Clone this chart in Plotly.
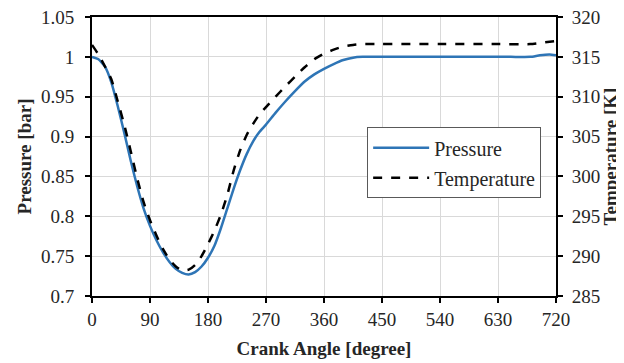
import plotly.graph_objects as go

# Crank angle [degree] and pressure [bar]
angle_p = [0, 10, 20, 30, 40, 50, 60, 70, 80, 90, 100, 110, 120, 130, 140, 150, 160,
           170, 180, 190, 200, 210, 220, 230, 240, 250, 260, 270, 285, 300, 315, 330,
           345, 360, 375, 390, 405, 420, 450, 500, 550, 600, 650, 680, 695, 710, 720]
pressure = [1.000, 0.997, 0.988, 0.968, 0.938, 0.905, 0.870, 0.838, 0.810, 0.788,
            0.770, 0.755, 0.743, 0.734, 0.729, 0.727, 0.730, 0.737, 0.748, 0.763,
            0.785, 0.810, 0.835, 0.858, 0.878, 0.894, 0.906, 0.915, 0.930, 0.944,
            0.957, 0.969, 0.978, 0.985, 0.991, 0.996, 0.999, 1.000, 1.000, 1.000,
            1.000, 1.000, 1.000, 1.000, 1.002, 1.003, 1.002]

# Crank angle [degree] and temperature [K]
angle_t = [0, 10, 20, 30, 40, 50, 60, 70, 80, 90, 100, 110, 120, 130, 140, 150, 160,
           170, 180, 190, 200, 210, 220, 230, 240, 250, 260, 270, 285, 300, 315, 330,
           345, 360, 375, 390, 405, 420, 450, 540, 630, 680, 700, 720]
temperature = [316.5, 315.3, 313.8, 312.2, 309.4, 306.5, 303.2, 299.8, 296.8, 294.5,
               292.6, 290.9, 289.6, 288.7, 288.2, 288.3, 288.9, 290.0, 291.5, 293.2,
               295.2, 297.7, 300.8, 303.3, 305.2, 306.6, 307.8, 308.7, 310.0, 311.3,
               312.5, 313.7, 314.7, 315.4, 315.9, 316.3, 316.5, 316.6, 316.6, 316.6,
               316.6, 316.6, 316.8, 317.0]

x_ticks = [0, 90, 180, 270, 360, 450, 540, 630, 720]
p_ticks = [0.7, 0.75, 0.8, 0.85, 0.9, 0.95, 1.0, 1.05]
p_tick_text = ["0.7", "0.75", "0.8", "0.85", "0.9", "0.95", "1", "1.05"]
t_ticks = [285, 290, 295, 300, 305, 310, 315, 320]

FONT = "Liberation Serif, Times New Roman, serif"
TXT = "#262626"

fig = go.Figure()
fig.add_trace(go.Scatter(
    x=angle_p, y=pressure, name="Pressure", mode="lines",
    line=dict(color="#2E75B6", width=2.5, shape="spline", smoothing=0.5),
    legendgroup="p"))
fig.add_trace(go.Scatter(
    x=angle_t, y=temperature, name="Temperature", mode="lines", yaxis="y2",
    line=dict(color="#000000", width=2.5, dash="dash", shape="spline", smoothing=0.5),
    legendgroup="t"))

axis_common = dict(showline=True, linecolor="#000000", linewidth=2,
                   ticks="outside", ticklen=5, tickcolor="#000000", tickwidth=1.5,
                   tickfont=dict(family=FONT, size=19, color=TXT),
                   ticklabeloverflow="allow",
                   zeroline=False, automargin=False)

# the page body adds an 8px offset, so the figure is 616x355 inside the 624x363 window
fig.update_layout(
    width=616, height=355,
    margin=dict(l=84, r=68, t=9, b=67),
    paper_bgcolor="white", plot_bgcolor="white",
    showlegend=True,
    legend=dict(x=0.593, y=0.605, xanchor="left", yanchor="top",
                bgcolor="white", bordercolor="#595959", borderwidth=1,
                font=dict(family=FONT, size=20, color=TXT),
                itemwidth=56,
                tracegroupgap=1, traceorder="grouped"),
    xaxis=dict(range=[0, 720], tickvals=x_ticks, mirror=True,
               showgrid=True, gridcolor="#d9d9d9", gridwidth=1,
               title=dict(text="<b>Crank Angle [degree]</b>", standoff=13,
                          font=dict(family=FONT, size=19, color=TXT)),
               **axis_common),
    yaxis=dict(range=[0.7, 1.05], tickvals=p_ticks, ticktext=p_tick_text,
               ticklabelstandoff=7,
               showgrid=True, gridcolor="#d9d9d9", gridwidth=1,
               title=dict(text="<b>Pressure [bar]</b>", standoff=4,
                          font=dict(family=FONT, size=19, color=TXT)),
               **axis_common),
    yaxis2=dict(range=[285, 320], tickvals=t_ticks, overlaying="y", side="right",
                ticklabelstandoff=5,
                showgrid=False,
                title=dict(text="<b>Temperature [K]</b>", standoff=0,
                           font=dict(family=FONT, size=19, color=TXT)),
                **axis_common),
)

fig.write_html("out.html")
